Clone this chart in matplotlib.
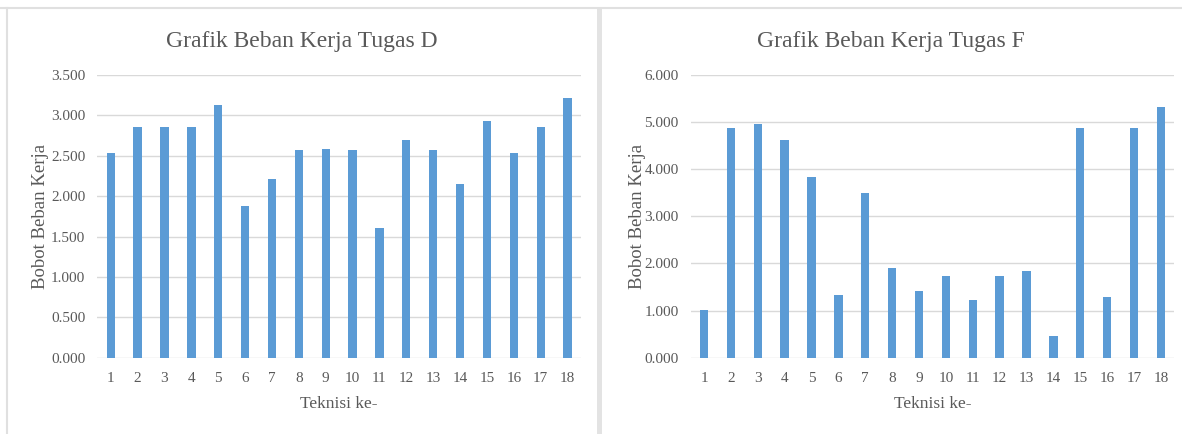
import numpy as np
import matplotlib
matplotlib.use('Agg')
import matplotlib.pyplot as plt
from matplotlib.lines import Line2D
from matplotlib.patches import Rectangle

# Data
teknisi = [str(i) for i in range(1, 19)]
bebanD = [2.54, 2.86, 2.86, 2.86, 3.13, 1.88, 2.21, 2.57, 2.59,
          2.57, 1.61, 2.69, 2.57, 2.15, 2.93, 2.54, 2.86, 3.22]
bebanF = [1.02, 4.87, 4.95, 4.63, 3.84, 1.34, 3.50, 1.91, 1.42,
          1.73, 1.22, 1.73, 1.85, 0.47, 4.87, 1.28, 4.87, 5.32]
titles = ['Grafik Beban Kerja Tugas D', 'Grafik Beban Kerja Tugas F']
yTicksD = [0, 0.5, 1.0, 1.5, 2.0, 2.5, 3.0, 3.5]
yTicksF = [0, 1, 2, 3, 4, 5, 6]

W, H = 1182, 434
barColor = '#5B9BD5'
textColor = '#595959'
gridColor = '#D9D9D9'

plt.rcParams['font.family'] = ['Liberation Serif', 'DejaVu Serif']

fig = plt.figure(figsize=(W / 100, H / 100), dpi=100)

# Panel frames (light gray borders like the original screenshot)
fig.add_artist(Line2D([0, 1], [1 - 8 / H, 1 - 8 / H], transform=fig.transFigure, color='#E0E0E0', lw=1.5))
fig.add_artist(Line2D([7 / W, 7 / W], [0, 1 - 8 / H], transform=fig.transFigure, color='#E0E0E0', lw=1.5))
fig.add_artist(Rectangle((597 / W, 0), 4.5 / W, 1 - 8 / H, transform=fig.transFigure,
                         color='#E3E3E3', lw=0))

axLeft = [97.3, 690.6]
axWidth = 483.7
axTop, axBottom = 75, 357.7
panelCenters = [302, 891]
ylabelX = [-0.118, -0.11]

datasets = [(bebanD, yTicksD), (bebanF, yTicksF)]

for i, (values, ticks) in enumerate(datasets):
    ax = fig.add_axes([axLeft[i] / W, (H - axBottom) / H, axWidth / W, (axBottom - axTop) / H])
    x = np.arange(len(teknisi))
    ax.bar(x, values, width=0.31, color=barColor, zorder=3)
    ax.set_xlim(-0.5, len(teknisi) - 0.5)
    ax.set_ylim(ticks[0], ticks[-1])
    ax.set_yticks(ticks)
    ax.set_yticklabels([f'{t:.3f}' for t in ticks])
    ax.set_xticks(x)
    ax.set_xticklabels(teknisi)
    ax.tick_params(axis='both', length=0, labelsize=11, colors=textColor)
    ax.tick_params(axis='y', pad=8.6)
    ax.tick_params(axis='x', pad=10.5)
    ax.yaxis.grid(True, color=gridColor, lw=1, zorder=0)
    for s in ax.spines.values():
        s.set_visible(False)

    ax.set_ylabel('Bobot Beban Kerja', fontsize=13.5, color=textColor)
    ax.yaxis.set_label_coords(ylabelX[i], 0.5)
    ax.yaxis.label.set_va('center')
    ax.set_xlabel('Teknisi ke-', fontsize=12.5, color=textColor)
    ax.xaxis.set_label_coords(0.5, -0.165)
    ax.xaxis.label.set_va('center')

    fig.text(panelCenters[i] / W, 1 - 41 / H, titles[i], ha='center', va='center',
             fontsize=17, color=textColor)

plt.savefig('out.png', dpi=100)
plt.close()
